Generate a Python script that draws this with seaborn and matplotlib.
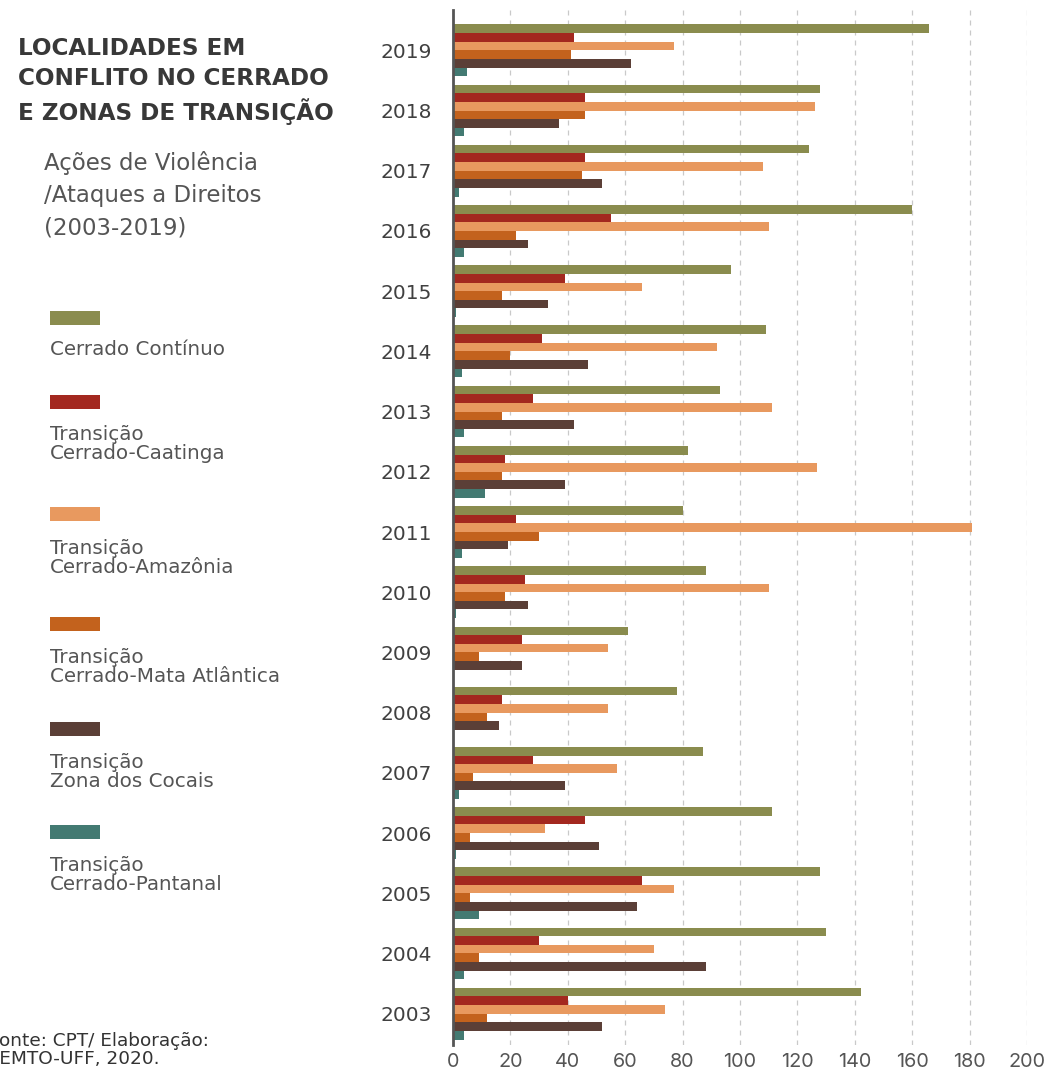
import matplotlib
matplotlib.use("Agg")
import matplotlib.pyplot as plt
import seaborn as sns
import pandas as pd
from matplotlib.patches import Rectangle

years = ["2019", "2018", "2017", "2016", "2015", "2014", "2013", "2012", "2011",
         "2010", "2009", "2008", "2007", "2006", "2005", "2004", "2003"]
series = ["Cerrado Contínuo", "Transição\nCerrado-Caatinga", "Transição\nCerrado-Amazônia",
          "Transição\nCerrado-Mata Atlântica", "Transição\nZona dos Cocais",
          "Transição\nCerrado-Pantanal"]
cerrado_continuo = [166, 128, 124, 160, 97, 109, 93, 82, 80, 88, 61, 78, 87, 111, 128, 130, 142]
cerrado_caatinga = [42, 46, 46, 55, 39, 31, 28, 18, 22, 25, 24, 17, 28, 46, 66, 30, 40]
cerrado_amazonia = [77, 126, 108, 110, 66, 92, 111, 127, 181, 110, 54, 54, 57, 32, 77, 70, 74]
cerrado_mata_atlantica = [41, 46, 45, 22, 17, 20, 17, 17, 30, 18, 9, 12, 7, 6, 6, 9, 12]
zona_cocais = [62, 37, 52, 26, 33, 47, 42, 39, 19, 26, 24, 16, 39, 51, 64, 88, 52]
cerrado_pantanal = [5, 4, 2, 4, 1, 3, 4, 11, 3, 1, 0, 0, 2, 1, 9, 4, 4]
colors = ["#8a8c4e", "#a3281f", "#e8995f", "#c3621d", "#5b3f37", "#437a72"]
xticks = [0, 20, 40, 60, 80, 100, 120, 140, 160, 180, 200]

values = [cerrado_continuo, cerrado_caatinga, cerrado_amazonia,
          cerrado_mata_atlantica, zona_cocais, cerrado_pantanal]
rows = []
for s, vals in zip(series, values):
    for y, v in zip(years, vals):
        rows.append({"ano": y, "serie": s, "valor": v})
df = pd.DataFrame(rows)

sns.set_theme(style="white")
plt.rcParams["font.family"] = ["DejaVu Sans"]

W, H = 1052, 1074
fig = plt.figure(figsize=(W / 100, H / 100), dpi=100)
ax = fig.add_axes([453 / W, 1 - 1045 / H, (1027 - 453) / W, (1045 - 10) / H])

sns.barplot(data=df, y="ano", x="valor", hue="serie", order=years, hue_order=series,
            palette=colors, orient="h", width=0.86, linewidth=0, saturation=1,
            legend=False, ax=ax)

ax.set_xlim(0, 200)
ax.set_ylim(16.52, -0.67)
ax.set_xticks(xticks)
ax.set_xticklabels([str(t) for t in xticks], fontsize=14.3, color="#555555",
                   family=["Inter", "DejaVu Sans"])
ax.tick_params(axis="both", length=0)
ax.tick_params(axis="x", pad=6)
ax.tick_params(axis="y", pad=15)
for lab in ax.get_yticklabels():
    lab.set_fontsize(14.5)
    lab.set_color("#404040")
ax.set_xlabel("")
ax.set_ylabel("")
for side in ["top", "right", "bottom"]:
    ax.spines[side].set_visible(False)
ax.spines["left"].set_color("#555555")
ax.spines["left"].set_linewidth(2)
ax.set_axisbelow(True)
ax.xaxis.grid(True, color="#c9c9c9", linestyle=(0, (4, 4)), linewidth=0.9)
ax.yaxis.grid(False)
for gl in ax.get_xgridlines()[:1]:
    gl.set_visible(False)

# Title block
fig.text(18 / W, 1 - 81 / H, "LOCALIDADES EM\nCONFLITO NO CERRADO\nE ZONAS DE TRANSIÇÃO",
         fontsize=16.7, fontweight="bold", color="#383838", va="center", ha="left",
         linespacing=1.36)
fig.text(44 / W, 1 - 195 / H, "Ações de Violência\n/Ataques a Direitos\n(2003-2019)",
         fontsize=16.5, color="#555555", va="center", ha="left", linespacing=1.52)

# Legend
patch_y = [318, 402, 514, 624, 729, 832]
label_y = [350, 444, 558, 667, 772, 875]
for c, s, py, ly in zip(colors, series, patch_y, label_y):
    fig.patches.append(Rectangle((50 / W, 1 - (py + 7) / H), 50 / W, 14 / H,
                                 transform=fig.transFigure, facecolor=c, edgecolor="none"))
    fig.text(50 / W, 1 - ly / H, s, fontsize=14.3, color="#555555",
             va="center", ha="left", linespacing=0.97)

# Source
fig.text(-11 / W, 1 - 1050 / H, "Fonte: CPT/ Elaboração:\nLEMTO-UFF, 2020.",
         fontsize=13.3, color="#333333", va="center", ha="left", linespacing=0.97)

fig.savefig("out.png", dpi=100, facecolor="white")
